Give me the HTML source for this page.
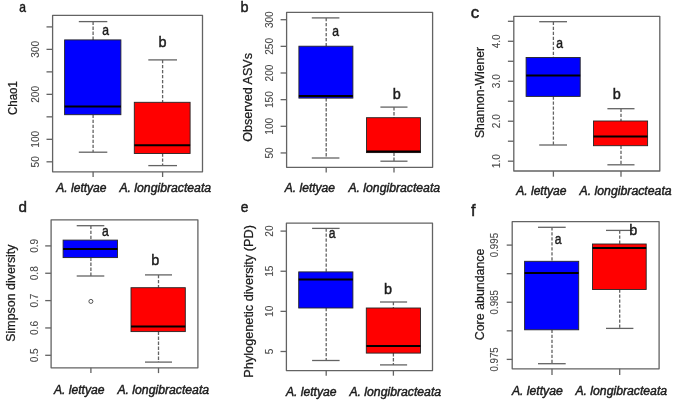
<!DOCTYPE html>
<html><head><meta charset="utf-8"><style>
html,body{margin:0;padding:0;background:#fff;}
body{width:685px;height:406px;overflow:hidden;}
svg{display:block;filter:blur(0.5px);}
text{font-family:"Liberation Sans",sans-serif;}
.t{stroke:#1c1c1c;stroke-width:0.45px;}
.L{stroke:#1c1c1c;stroke-width:0.45px;}
.y{stroke:#1c1c1c;stroke-width:0.25px;}
.k{stroke:#4a4a4a;stroke-width:0.1px;}
</style></head><body>
<svg width="685" height="406" viewBox="0 0 685 406">
<rect width="685" height="406" fill="#fff"/>
<text x="19.23" y="11.80" font-size="14.40" fill="#1c1c1c" class="L" textLength="6.73" lengthAdjust="spacingAndGlyphs">a</text>
<rect x="52.60" y="15.30" width="149.90" height="156.50" fill="none" stroke="#636363" stroke-width="1.3" stroke-linejoin="round"/>
<line x1="46.50" y1="26.90" x2="52.60" y2="26.90" stroke="#636363" stroke-width="1.3"/>
<line x1="46.50" y1="49.38" x2="52.60" y2="49.38" stroke="#636363" stroke-width="1.3"/>
<line x1="46.50" y1="71.87" x2="52.60" y2="71.87" stroke="#636363" stroke-width="1.3"/>
<line x1="46.50" y1="94.35" x2="52.60" y2="94.35" stroke="#636363" stroke-width="1.3"/>
<line x1="46.50" y1="116.84" x2="52.60" y2="116.84" stroke="#636363" stroke-width="1.3"/>
<line x1="46.50" y1="139.32" x2="52.60" y2="139.32" stroke="#636363" stroke-width="1.3"/>
<line x1="46.50" y1="161.81" x2="52.60" y2="161.81" stroke="#636363" stroke-width="1.3"/>
<text transform="translate(38.50,49.38) rotate(-90)" font-size="10.80" fill="#4a4a4a" class="k" text-anchor="middle" textLength="16.76" lengthAdjust="spacingAndGlyphs">300</text>
<text transform="translate(38.50,94.35) rotate(-90)" font-size="10.80" fill="#4a4a4a" class="k" text-anchor="middle" textLength="16.76" lengthAdjust="spacingAndGlyphs">200</text>
<text transform="translate(38.50,139.32) rotate(-90)" font-size="10.80" fill="#4a4a4a" class="k" text-anchor="middle" textLength="16.76" lengthAdjust="spacingAndGlyphs">100</text>
<text transform="translate(38.50,161.81) rotate(-90)" font-size="10.80" fill="#4a4a4a" class="k" text-anchor="middle" textLength="11.17" lengthAdjust="spacingAndGlyphs">50</text>
<line x1="93.10" y1="21.60" x2="93.10" y2="39.90" stroke="#636363" stroke-width="1.3" stroke-dasharray="3.3,1.7"/>
<line x1="93.10" y1="114.70" x2="93.10" y2="152.20" stroke="#636363" stroke-width="1.3" stroke-dasharray="3.3,1.7"/>
<line x1="78.80" y1="21.60" x2="107.30" y2="21.60" stroke="#636363" stroke-width="1.3"/>
<line x1="78.80" y1="152.20" x2="107.30" y2="152.20" stroke="#636363" stroke-width="1.3"/>
<rect x="64.60" y="39.90" width="56.30" height="74.80" fill="#0000ff" stroke="#252525" stroke-width="0.9"/>
<line x1="64.60" y1="106.60" x2="120.90" y2="106.60" stroke="#000" stroke-width="2.0"/>
<line x1="162.60" y1="59.90" x2="162.60" y2="102.30" stroke="#636363" stroke-width="1.3" stroke-dasharray="3.3,1.7"/>
<line x1="162.60" y1="153.50" x2="162.60" y2="165.60" stroke="#636363" stroke-width="1.3" stroke-dasharray="3.3,1.7"/>
<line x1="148.30" y1="59.90" x2="177.00" y2="59.90" stroke="#636363" stroke-width="1.3"/>
<line x1="148.30" y1="165.60" x2="177.00" y2="165.60" stroke="#636363" stroke-width="1.3"/>
<rect x="134.30" y="102.30" width="55.80" height="51.20" fill="#ff0000" stroke="#252525" stroke-width="0.9"/>
<line x1="134.30" y1="145.30" x2="190.10" y2="145.30" stroke="#000" stroke-width="2.0"/>
<text x="102.36" y="34.70" font-size="15.20" fill="#1c1c1c" class="L" textLength="6.76" lengthAdjust="spacingAndGlyphs">a</text>
<text x="158.42" y="47.40" font-size="15.20" fill="#1c1c1c" class="L" textLength="8.03" lengthAdjust="spacingAndGlyphs">b</text>
<line x1="93.10" y1="171.80" x2="93.10" y2="177.00" stroke="#636363" stroke-width="1.3"/>
<line x1="162.60" y1="171.80" x2="162.60" y2="177.00" stroke="#636363" stroke-width="1.3"/>
<text x="56.29" y="192.00" font-size="12.00" font-style="italic" fill="#1c1c1c" class="t" textLength="50.25" lengthAdjust="spacingAndGlyphs">A. lettyae</text>
<text x="119.40" y="192.00" font-size="12.00" font-style="italic" fill="#1c1c1c" class="t" textLength="91.72" lengthAdjust="spacingAndGlyphs">A. longibracteata</text>
<text transform="translate(16.60,114.98) rotate(-90)" font-size="12.40" fill="#1c1c1c" class="y" textLength="33.74" lengthAdjust="spacingAndGlyphs">Chao1</text>
<text x="240.62" y="12.20" font-size="15.20" fill="#1c1c1c" class="L" textLength="8.03" lengthAdjust="spacingAndGlyphs">b</text>
<rect x="286.60" y="12.30" width="146.00" height="155.00" fill="none" stroke="#636363" stroke-width="1.3" stroke-linejoin="round"/>
<line x1="280.60" y1="19.70" x2="286.70" y2="19.70" stroke="#636363" stroke-width="1.3"/>
<line x1="280.60" y1="46.35" x2="286.70" y2="46.35" stroke="#636363" stroke-width="1.3"/>
<line x1="280.60" y1="73.00" x2="286.70" y2="73.00" stroke="#636363" stroke-width="1.3"/>
<line x1="280.60" y1="99.65" x2="286.70" y2="99.65" stroke="#636363" stroke-width="1.3"/>
<line x1="280.60" y1="126.30" x2="286.70" y2="126.30" stroke="#636363" stroke-width="1.3"/>
<line x1="280.60" y1="152.95" x2="286.70" y2="152.95" stroke="#636363" stroke-width="1.3"/>
<text transform="translate(273.20,19.70) rotate(-90)" font-size="10.80" fill="#4a4a4a" class="k" text-anchor="middle" textLength="16.76" lengthAdjust="spacingAndGlyphs">300</text>
<text transform="translate(273.20,46.35) rotate(-90)" font-size="10.80" fill="#4a4a4a" class="k" text-anchor="middle" textLength="16.76" lengthAdjust="spacingAndGlyphs">250</text>
<text transform="translate(273.20,73.00) rotate(-90)" font-size="10.80" fill="#4a4a4a" class="k" text-anchor="middle" textLength="16.76" lengthAdjust="spacingAndGlyphs">200</text>
<text transform="translate(273.20,99.65) rotate(-90)" font-size="10.80" fill="#4a4a4a" class="k" text-anchor="middle" textLength="16.76" lengthAdjust="spacingAndGlyphs">150</text>
<text transform="translate(273.20,126.30) rotate(-90)" font-size="10.80" fill="#4a4a4a" class="k" text-anchor="middle" textLength="16.76" lengthAdjust="spacingAndGlyphs">100</text>
<text transform="translate(273.20,152.95) rotate(-90)" font-size="10.80" fill="#4a4a4a" class="k" text-anchor="middle" textLength="11.17" lengthAdjust="spacingAndGlyphs">50</text>
<line x1="326.20" y1="17.90" x2="326.20" y2="46.20" stroke="#636363" stroke-width="1.3" stroke-dasharray="3.3,1.7"/>
<line x1="326.20" y1="98.10" x2="326.20" y2="158.00" stroke="#636363" stroke-width="1.3" stroke-dasharray="3.3,1.7"/>
<line x1="311.80" y1="17.90" x2="339.40" y2="17.90" stroke="#636363" stroke-width="1.3"/>
<line x1="311.80" y1="158.00" x2="339.40" y2="158.00" stroke="#636363" stroke-width="1.3"/>
<rect x="298.90" y="46.20" width="54.00" height="51.90" fill="#0000ff" stroke="#252525" stroke-width="0.9"/>
<line x1="298.90" y1="95.90" x2="352.90" y2="95.90" stroke="#000" stroke-width="2.0"/>
<line x1="394.00" y1="107.10" x2="394.00" y2="117.70" stroke="#636363" stroke-width="1.3" stroke-dasharray="3.3,1.7"/>
<line x1="394.00" y1="152.60" x2="394.00" y2="161.20" stroke="#636363" stroke-width="1.3" stroke-dasharray="3.3,1.7"/>
<line x1="380.40" y1="107.10" x2="407.50" y2="107.10" stroke="#636363" stroke-width="1.3"/>
<line x1="380.40" y1="161.20" x2="407.50" y2="161.20" stroke="#636363" stroke-width="1.3"/>
<rect x="366.50" y="117.70" width="54.00" height="34.90" fill="#ff0000" stroke="#252525" stroke-width="0.9"/>
<line x1="366.50" y1="151.50" x2="420.50" y2="151.50" stroke="#000" stroke-width="2.0"/>
<text x="332.21" y="36.40" font-size="15.20" fill="#1c1c1c" class="L" textLength="6.76" lengthAdjust="spacingAndGlyphs">a</text>
<text x="392.82" y="99.10" font-size="15.20" fill="#1c1c1c" class="L" textLength="8.03" lengthAdjust="spacingAndGlyphs">b</text>
<line x1="326.20" y1="167.30" x2="326.20" y2="172.60" stroke="#636363" stroke-width="1.3"/>
<line x1="394.00" y1="167.30" x2="394.00" y2="172.60" stroke="#636363" stroke-width="1.3"/>
<text x="284.79" y="191.90" font-size="12.00" font-style="italic" fill="#1c1c1c" class="t" textLength="50.25" lengthAdjust="spacingAndGlyphs">A. lettyae</text>
<text x="348.40" y="191.80" font-size="12.00" font-style="italic" fill="#1c1c1c" class="t" textLength="91.72" lengthAdjust="spacingAndGlyphs">A. longibracteata</text>
<text transform="translate(252.00,141.79) rotate(-90)" font-size="12.20" fill="#1c1c1c" class="y" textLength="88.84" lengthAdjust="spacingAndGlyphs">Observed ASVs</text>
<text x="470.75" y="17.70" font-size="15.60" fill="#1c1c1c" class="L" textLength="8.42" lengthAdjust="spacingAndGlyphs">c</text>
<rect x="513.80" y="16.30" width="146.00" height="154.70" fill="none" stroke="#636363" stroke-width="1.3" stroke-linejoin="round"/>
<line x1="507.90" y1="21.30" x2="513.80" y2="21.30" stroke="#636363" stroke-width="1.3"/>
<line x1="507.90" y1="41.28" x2="513.80" y2="41.28" stroke="#636363" stroke-width="1.3"/>
<line x1="507.90" y1="61.27" x2="513.80" y2="61.27" stroke="#636363" stroke-width="1.3"/>
<line x1="507.90" y1="81.25" x2="513.80" y2="81.25" stroke="#636363" stroke-width="1.3"/>
<line x1="507.90" y1="101.24" x2="513.80" y2="101.24" stroke="#636363" stroke-width="1.3"/>
<line x1="507.90" y1="121.22" x2="513.80" y2="121.22" stroke="#636363" stroke-width="1.3"/>
<line x1="507.90" y1="141.21" x2="513.80" y2="141.21" stroke="#636363" stroke-width="1.3"/>
<line x1="507.90" y1="161.19" x2="513.80" y2="161.19" stroke="#636363" stroke-width="1.3"/>
<text transform="translate(500.40,41.28) rotate(-90)" font-size="10.80" fill="#4a4a4a" class="k" text-anchor="middle" textLength="13.96" lengthAdjust="spacingAndGlyphs">4.0</text>
<text transform="translate(500.40,81.25) rotate(-90)" font-size="10.80" fill="#4a4a4a" class="k" text-anchor="middle" textLength="13.96" lengthAdjust="spacingAndGlyphs">3.0</text>
<text transform="translate(500.40,121.22) rotate(-90)" font-size="10.80" fill="#4a4a4a" class="k" text-anchor="middle" textLength="13.96" lengthAdjust="spacingAndGlyphs">2.0</text>
<text transform="translate(500.40,161.19) rotate(-90)" font-size="10.80" fill="#4a4a4a" class="k" text-anchor="middle" textLength="13.96" lengthAdjust="spacingAndGlyphs">1.0</text>
<line x1="553.40" y1="21.70" x2="553.40" y2="57.50" stroke="#636363" stroke-width="1.3" stroke-dasharray="3.3,1.7"/>
<line x1="553.40" y1="96.40" x2="553.40" y2="145.00" stroke="#636363" stroke-width="1.3" stroke-dasharray="3.3,1.7"/>
<line x1="539.20" y1="21.70" x2="567.00" y2="21.70" stroke="#636363" stroke-width="1.3"/>
<line x1="539.20" y1="145.00" x2="567.00" y2="145.00" stroke="#636363" stroke-width="1.3"/>
<rect x="526.10" y="57.50" width="54.10" height="38.90" fill="#0000ff" stroke="#252525" stroke-width="0.9"/>
<line x1="526.10" y1="75.50" x2="580.20" y2="75.50" stroke="#000" stroke-width="2.0"/>
<line x1="621.00" y1="108.70" x2="621.00" y2="121.00" stroke="#636363" stroke-width="1.3" stroke-dasharray="3.3,1.7"/>
<line x1="621.00" y1="145.70" x2="621.00" y2="164.80" stroke="#636363" stroke-width="1.3" stroke-dasharray="3.3,1.7"/>
<line x1="607.40" y1="108.70" x2="634.50" y2="108.70" stroke="#636363" stroke-width="1.3"/>
<line x1="607.40" y1="164.80" x2="634.50" y2="164.80" stroke="#636363" stroke-width="1.3"/>
<rect x="593.50" y="121.00" width="54.10" height="24.70" fill="#ff0000" stroke="#252525" stroke-width="0.9"/>
<line x1="593.50" y1="136.40" x2="647.60" y2="136.40" stroke="#000" stroke-width="2.0"/>
<text x="556.36" y="47.60" font-size="15.20" fill="#1c1c1c" class="L" textLength="6.76" lengthAdjust="spacingAndGlyphs">a</text>
<text x="612.72" y="99.30" font-size="15.20" fill="#1c1c1c" class="L" textLength="8.03" lengthAdjust="spacingAndGlyphs">b</text>
<line x1="553.40" y1="171.00" x2="553.40" y2="176.70" stroke="#636363" stroke-width="1.3"/>
<line x1="621.00" y1="171.00" x2="621.00" y2="176.70" stroke="#636363" stroke-width="1.3"/>
<text x="516.20" y="195.40" font-size="12.00" font-style="italic" fill="#1c1c1c" class="t" textLength="50.35" lengthAdjust="spacingAndGlyphs">A. lettyae</text>
<text x="579.60" y="195.20" font-size="12.00" font-style="italic" fill="#1c1c1c" class="t" textLength="92.01" lengthAdjust="spacingAndGlyphs">A. longibracteata</text>
<text transform="translate(483.90,138.05) rotate(-90)" font-size="12.20" fill="#1c1c1c" class="y" textLength="91.05" lengthAdjust="spacingAndGlyphs">Shannon-Wiener</text>
<text x="18.44" y="212.40" font-size="15.20" fill="#1c1c1c" class="L" textLength="8.45" lengthAdjust="spacingAndGlyphs">d</text>
<rect x="51.10" y="219.80" width="146.80" height="148.00" fill="none" stroke="#636363" stroke-width="1.3" stroke-linejoin="round"/>
<line x1="45.20" y1="245.90" x2="51.10" y2="245.90" stroke="#636363" stroke-width="1.3"/>
<line x1="45.20" y1="273.25" x2="51.10" y2="273.25" stroke="#636363" stroke-width="1.3"/>
<line x1="45.20" y1="300.60" x2="51.10" y2="300.60" stroke="#636363" stroke-width="1.3"/>
<line x1="45.20" y1="327.95" x2="51.10" y2="327.95" stroke="#636363" stroke-width="1.3"/>
<line x1="45.20" y1="355.30" x2="51.10" y2="355.30" stroke="#636363" stroke-width="1.3"/>
<text transform="translate(37.70,245.90) rotate(-90)" font-size="10.80" fill="#4a4a4a" class="k" text-anchor="middle" textLength="13.96" lengthAdjust="spacingAndGlyphs">0.9</text>
<text transform="translate(37.70,273.25) rotate(-90)" font-size="10.80" fill="#4a4a4a" class="k" text-anchor="middle" textLength="13.96" lengthAdjust="spacingAndGlyphs">0.8</text>
<text transform="translate(37.70,300.60) rotate(-90)" font-size="10.80" fill="#4a4a4a" class="k" text-anchor="middle" textLength="13.96" lengthAdjust="spacingAndGlyphs">0.7</text>
<text transform="translate(37.70,327.95) rotate(-90)" font-size="10.80" fill="#4a4a4a" class="k" text-anchor="middle" textLength="13.96" lengthAdjust="spacingAndGlyphs">0.6</text>
<text transform="translate(37.70,355.30) rotate(-90)" font-size="10.80" fill="#4a4a4a" class="k" text-anchor="middle" textLength="13.96" lengthAdjust="spacingAndGlyphs">0.5</text>
<line x1="90.90" y1="225.70" x2="90.90" y2="240.10" stroke="#636363" stroke-width="1.3" stroke-dasharray="3.3,1.7"/>
<line x1="90.90" y1="257.60" x2="90.90" y2="276.00" stroke="#636363" stroke-width="1.3" stroke-dasharray="3.3,1.7"/>
<line x1="76.70" y1="225.70" x2="104.30" y2="225.70" stroke="#636363" stroke-width="1.3"/>
<line x1="76.70" y1="276.00" x2="104.30" y2="276.00" stroke="#636363" stroke-width="1.3"/>
<rect x="63.10" y="240.10" width="54.40" height="17.50" fill="#0000ff" stroke="#252525" stroke-width="0.9"/>
<line x1="63.10" y1="249.00" x2="117.50" y2="249.00" stroke="#000" stroke-width="2.0"/>
<circle cx="90.9" cy="301.4" r="2.0" fill="none" stroke="#505050" stroke-width="1.0"/>
<line x1="158.50" y1="274.90" x2="158.50" y2="287.70" stroke="#636363" stroke-width="1.3" stroke-dasharray="3.3,1.7"/>
<line x1="158.50" y1="331.60" x2="158.50" y2="362.10" stroke="#636363" stroke-width="1.3" stroke-dasharray="3.3,1.7"/>
<line x1="145.00" y1="274.90" x2="172.00" y2="274.90" stroke="#636363" stroke-width="1.3"/>
<line x1="145.00" y1="362.10" x2="172.00" y2="362.10" stroke="#636363" stroke-width="1.3"/>
<rect x="131.00" y="287.70" width="54.30" height="43.90" fill="#ff0000" stroke="#252525" stroke-width="0.9"/>
<line x1="131.00" y1="326.60" x2="185.30" y2="326.60" stroke="#000" stroke-width="2.0"/>
<text x="102.01" y="235.80" font-size="15.20" fill="#1c1c1c" class="L" textLength="6.76" lengthAdjust="spacingAndGlyphs">a</text>
<text x="151.32" y="265.30" font-size="15.20" fill="#1c1c1c" class="L" textLength="8.03" lengthAdjust="spacingAndGlyphs">b</text>
<line x1="90.90" y1="367.80" x2="90.90" y2="373.10" stroke="#636363" stroke-width="1.3"/>
<line x1="158.50" y1="367.80" x2="158.50" y2="373.10" stroke="#636363" stroke-width="1.3"/>
<text x="53.90" y="393.70" font-size="12.00" font-style="italic" fill="#1c1c1c" class="t" textLength="50.65" lengthAdjust="spacingAndGlyphs">A. lettyae</text>
<text x="117.40" y="393.80" font-size="12.00" font-style="italic" fill="#1c1c1c" class="t" textLength="91.72" lengthAdjust="spacingAndGlyphs">A. longibracteata</text>
<text transform="translate(14.90,341.66) rotate(-90)" font-size="12.10" fill="#1c1c1c" class="y" textLength="97.19" lengthAdjust="spacingAndGlyphs">Simpson diversity</text>
<text x="240.68" y="211.50" font-size="14.20" fill="#1c1c1c" class="L" textLength="7.66" lengthAdjust="spacingAndGlyphs">e</text>
<rect x="286.40" y="223.20" width="146.10" height="147.40" fill="none" stroke="#636363" stroke-width="1.3" stroke-linejoin="round"/>
<line x1="280.50" y1="231.10" x2="286.40" y2="231.10" stroke="#636363" stroke-width="1.3"/>
<line x1="280.50" y1="271.24" x2="286.40" y2="271.24" stroke="#636363" stroke-width="1.3"/>
<line x1="280.50" y1="311.37" x2="286.40" y2="311.37" stroke="#636363" stroke-width="1.3"/>
<line x1="280.50" y1="351.50" x2="286.40" y2="351.50" stroke="#636363" stroke-width="1.3"/>
<text transform="translate(273.10,231.10) rotate(-90)" font-size="10.80" fill="#4a4a4a" class="k" text-anchor="middle" textLength="11.17" lengthAdjust="spacingAndGlyphs">20</text>
<text transform="translate(273.10,271.24) rotate(-90)" font-size="10.80" fill="#4a4a4a" class="k" text-anchor="middle" textLength="11.17" lengthAdjust="spacingAndGlyphs">15</text>
<text transform="translate(273.10,311.37) rotate(-90)" font-size="10.80" fill="#4a4a4a" class="k" text-anchor="middle" textLength="11.17" lengthAdjust="spacingAndGlyphs">10</text>
<text transform="translate(273.10,351.50) rotate(-90)" font-size="10.80" fill="#4a4a4a" class="k" text-anchor="middle" textLength="5.59" lengthAdjust="spacingAndGlyphs">5</text>
<line x1="326.20" y1="228.40" x2="326.20" y2="271.90" stroke="#636363" stroke-width="1.3" stroke-dasharray="3.3,1.7"/>
<line x1="326.20" y1="308.00" x2="326.20" y2="360.50" stroke="#636363" stroke-width="1.3" stroke-dasharray="3.3,1.7"/>
<line x1="312.10" y1="228.40" x2="339.60" y2="228.40" stroke="#636363" stroke-width="1.3"/>
<line x1="312.10" y1="360.50" x2="339.60" y2="360.50" stroke="#636363" stroke-width="1.3"/>
<rect x="298.70" y="271.90" width="54.20" height="36.10" fill="#0000ff" stroke="#252525" stroke-width="0.9"/>
<line x1="298.70" y1="279.60" x2="352.90" y2="279.60" stroke="#000" stroke-width="2.0"/>
<line x1="393.40" y1="302.00" x2="393.40" y2="308.00" stroke="#636363" stroke-width="1.3" stroke-dasharray="3.3,1.7"/>
<line x1="393.40" y1="353.10" x2="393.40" y2="364.90" stroke="#636363" stroke-width="1.3" stroke-dasharray="3.3,1.7"/>
<line x1="380.00" y1="302.00" x2="407.10" y2="302.00" stroke="#636363" stroke-width="1.3"/>
<line x1="380.00" y1="364.90" x2="407.10" y2="364.90" stroke="#636363" stroke-width="1.3"/>
<rect x="366.30" y="308.00" width="54.20" height="45.10" fill="#ff0000" stroke="#252525" stroke-width="0.9"/>
<line x1="366.30" y1="345.90" x2="420.50" y2="345.90" stroke="#000" stroke-width="2.0"/>
<text x="328.81" y="238.10" font-size="15.20" fill="#1c1c1c" class="L" textLength="6.76" lengthAdjust="spacingAndGlyphs">a</text>
<text x="383.92" y="293.90" font-size="15.20" fill="#1c1c1c" class="L" textLength="8.03" lengthAdjust="spacingAndGlyphs">b</text>
<line x1="326.20" y1="370.60" x2="326.20" y2="375.70" stroke="#636363" stroke-width="1.3"/>
<line x1="393.40" y1="370.60" x2="393.40" y2="375.70" stroke="#636363" stroke-width="1.3"/>
<text x="285.90" y="395.70" font-size="12.00" font-style="italic" fill="#1c1c1c" class="t" textLength="50.65" lengthAdjust="spacingAndGlyphs">A. lettyae</text>
<text x="349.40" y="395.80" font-size="12.00" font-style="italic" fill="#1c1c1c" class="t" textLength="91.72" lengthAdjust="spacingAndGlyphs">A. longibracteata</text>
<text transform="translate(253.00,377.64) rotate(-90)" font-size="12.40" fill="#1c1c1c" class="y" textLength="152.53" lengthAdjust="spacingAndGlyphs">Phylogenetic diversity (PD)</text>
<text x="471.11" y="215.60" font-size="15.80" fill="#1c1c1c" class="L" textLength="4.52" lengthAdjust="spacingAndGlyphs">f</text>
<rect x="512.20" y="221.70" width="146.90" height="147.10" fill="none" stroke="#636363" stroke-width="1.3" stroke-linejoin="round"/>
<line x1="506.70" y1="245.10" x2="512.20" y2="245.10" stroke="#636363" stroke-width="1.3"/>
<line x1="506.70" y1="273.68" x2="512.20" y2="273.68" stroke="#636363" stroke-width="1.3"/>
<line x1="506.70" y1="302.25" x2="512.20" y2="302.25" stroke="#636363" stroke-width="1.3"/>
<line x1="506.70" y1="330.83" x2="512.20" y2="330.83" stroke="#636363" stroke-width="1.3"/>
<line x1="506.70" y1="359.40" x2="512.20" y2="359.40" stroke="#636363" stroke-width="1.3"/>
<text transform="translate(498.40,245.10) rotate(-90)" font-size="10.00" fill="#4a4a4a" class="k" text-anchor="middle" textLength="24.27" lengthAdjust="spacingAndGlyphs">0.995</text>
<text transform="translate(498.40,302.25) rotate(-90)" font-size="10.00" fill="#4a4a4a" class="k" text-anchor="middle" textLength="24.27" lengthAdjust="spacingAndGlyphs">0.985</text>
<text transform="translate(498.40,359.40) rotate(-90)" font-size="10.00" fill="#4a4a4a" class="k" text-anchor="middle" textLength="24.27" lengthAdjust="spacingAndGlyphs">0.975</text>
<line x1="552.00" y1="227.30" x2="552.00" y2="261.30" stroke="#636363" stroke-width="1.3" stroke-dasharray="3.3,1.7"/>
<line x1="552.00" y1="329.80" x2="552.00" y2="363.70" stroke="#636363" stroke-width="1.3" stroke-dasharray="3.3,1.7"/>
<line x1="538.00" y1="227.30" x2="565.70" y2="227.30" stroke="#636363" stroke-width="1.3"/>
<line x1="538.00" y1="363.70" x2="565.70" y2="363.70" stroke="#636363" stroke-width="1.3"/>
<rect x="524.60" y="261.30" width="54.10" height="68.50" fill="#0000ff" stroke="#252525" stroke-width="0.9"/>
<line x1="524.60" y1="273.10" x2="578.70" y2="273.10" stroke="#000" stroke-width="2.0"/>
<line x1="619.70" y1="230.40" x2="619.70" y2="244.00" stroke="#636363" stroke-width="1.3" stroke-dasharray="3.3,1.7"/>
<line x1="619.70" y1="289.50" x2="619.70" y2="328.40" stroke="#636363" stroke-width="1.3" stroke-dasharray="3.3,1.7"/>
<line x1="606.00" y1="230.40" x2="633.40" y2="230.40" stroke="#636363" stroke-width="1.3"/>
<line x1="606.00" y1="328.40" x2="633.40" y2="328.40" stroke="#636363" stroke-width="1.3"/>
<rect x="592.50" y="244.00" width="53.70" height="45.50" fill="#ff0000" stroke="#252525" stroke-width="0.9"/>
<line x1="592.50" y1="248.00" x2="646.20" y2="248.00" stroke="#000" stroke-width="2.0"/>
<text x="554.71" y="244.10" font-size="15.20" fill="#1c1c1c" class="L" textLength="6.76" lengthAdjust="spacingAndGlyphs">a</text>
<text x="629.32" y="235.10" font-size="15.20" fill="#1c1c1c" class="L" textLength="8.03" lengthAdjust="spacingAndGlyphs">b</text>
<line x1="552.00" y1="368.80" x2="552.00" y2="374.90" stroke="#636363" stroke-width="1.3"/>
<line x1="619.70" y1="368.80" x2="619.70" y2="374.90" stroke="#636363" stroke-width="1.3"/>
<text x="511.90" y="395.20" font-size="12.00" font-style="italic" fill="#1c1c1c" class="t" textLength="50.85" lengthAdjust="spacingAndGlyphs">A. lettyae</text>
<text x="575.40" y="395.30" font-size="12.00" font-style="italic" fill="#1c1c1c" class="t" textLength="91.72" lengthAdjust="spacingAndGlyphs">A. longibracteata</text>
<text transform="translate(483.90,340.23) rotate(-90)" font-size="13.10" fill="#1c1c1c" class="y" textLength="91.68" lengthAdjust="spacingAndGlyphs">Core abundance</text>
</svg>
</body></html>
